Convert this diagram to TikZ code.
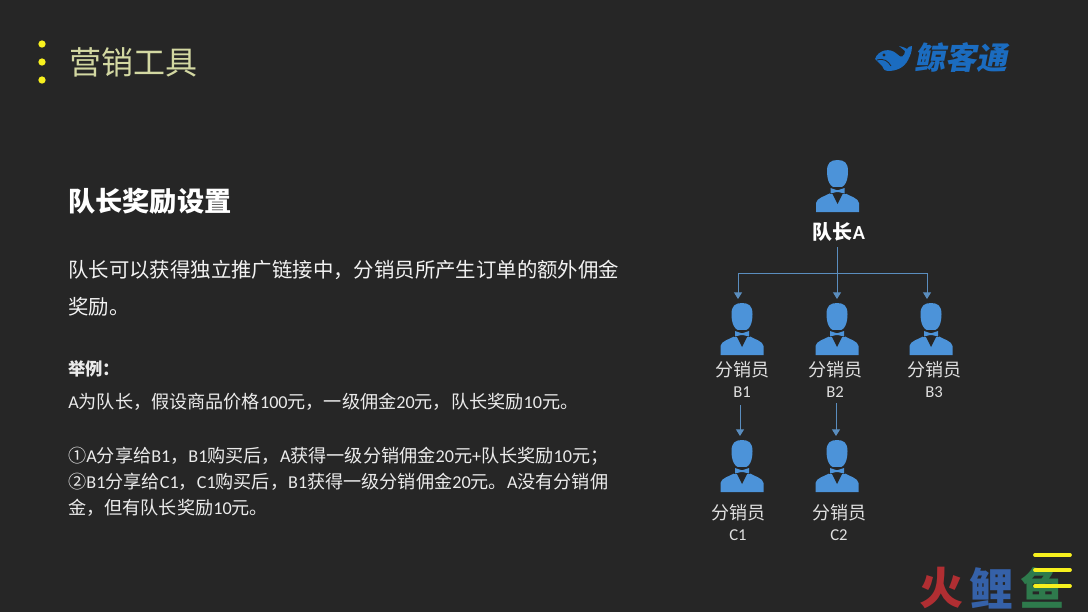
\documentclass[tikz,border=0pt]{standalone}
\usepackage{fontspec}
\setmainfont{Noto Sans CJK SC}
\newfontfamily\carlito{Carlito}
\usetikzlibrary{arrows.meta}
\definecolor{slidebg}{HTML}{262626}
\definecolor{iconblue}{HTML}{4C93D9}
\definecolor{wireblue}{HTML}{5A8DBE}
\definecolor{logoblue}{HTML}{1B6CC0}
\definecolor{titlegreen}{HTML}{D3D8A2}
\definecolor{dotyellow}{HTML}{F7F01E}
\definecolor{brandred}{HTML}{B02E32}
\definecolor{brandblue}{HTML}{3561A8}
\definecolor{brandgreen}{HTML}{2E7A4C}
\newcommand{\lat}[1]{{\carlito #1}}
\tikzset{
  bodytext/.style={anchor=west, inner sep=0pt, text=white!95!black, font=\fontsize{15.3}{18}\selectfont},
  smalltext/.style={anchor=west, inner sep=0pt, text=white!92!black, font=\fontsize{13.6}{16}\selectfont},
  role/.style={inner sep=0pt, text=white!88!black, font=\fontsize{13.5}{16}\selectfont},
  rolecode/.style={inner sep=0pt, text=white!88!black, font=\carlito\fontsize{12.5}{14}\selectfont},
  iconbox/.style={anchor=north, inner sep=0pt, outer sep=0pt, minimum width=33pt, minimum height=42pt},
  wire/.style={draw=wireblue, line width=0.7pt},
  wirearrow/.style={wire, -{Triangle[width=6pt,length=5pt]}},
  dot/.style={circle, fill=dotyellow, inner sep=0pt, minimum size=5.5pt},
  brand/.style={inner sep=0pt, font=\bfseries\fontsize{33}{38}\selectfont},
  yellowbar/.style={draw=dotyellow, line width=2.8pt, line cap=round}
}
% #1 name, #2 centre x, #3 top of head
\newcommand{\person}[3]{
  \node [iconbox] (#1) at (#2,#3-4) {};
  \begin{scope}[shift={(#2,#3)}]
    \fill [iconblue] (-10.5,11) .. controls (-10.5,3) and (-7,0) .. (0,0) .. controls (7,0) and (10.5,3) .. (10.5,11)
      .. controls (10.5,20) and (8,28) .. (0,28) .. controls (-8,28) and (-10.5,20) .. (-10.5,11) -- cycle;
    \fill [iconblue] (-21.5,52) -- (-21.5,43) .. controls (-21,38) and (-12,36) .. (-7,33) -- (7,33)
      .. controls (12,36) and (21,38) .. (21.5,43) -- (21.5,52) -- cycle;
    \fill [slidebg] (-5.5,33) -- (5.5,33) -- (0,44) -- cycle;
    \fill [slidebg] (-8,26.5) rectangle (8,33.5);
    \fill [iconblue] (-7,28) -- (-1,30) -- (1,30) -- (7,28) -- (7,33.5) -- (1,32) -- (-1,32) -- (-7,33.5) -- cycle;
  \end{scope}
}
\begin{document}
\begin{tikzpicture}[x=0.75pt,y=-0.75pt]
\useasboundingbox (0,0) rectangle (1088,612);
\fill [slidebg] (0,0) rectangle (1088,612);
\node [dot] (dota) at (42,44) {};
\node [dot] (dotb) at (42,62) {};
\node [dot] (dotc) at (42,80) {};
\node [anchor=west, inner sep=0pt, text=titlegreen, font=\fontsize{24}{28}\selectfont] (title) at (69,62) {营销工具};
% logo
\fill [logoblue] (875,59) .. controls (878,50) and (890,47) .. (897,54) .. controls (901,59) and (905,56) .. (905,51)
  -- (899,46) .. controls (903,47) and (906,48) .. (907,49) .. controls (908,47) and (910,46) .. (912,46)
  .. controls (912,52) and (910,56) .. (908,60) .. controls (904,68) and (896,71) .. (888,71)
  .. controls (882,71) and (884,66) .. (880,64) -- cycle;
\fill [slidebg] (884,55) circle (1.6);
\draw [slidebg, line width=0.6pt] (877,60) .. controls (884,58) and (888,61) .. (891,66);
\node [inner sep=0pt, text=logoblue, font=\bfseries\fontsize{23.2}{26}\selectfont, xslant=0.2, transform shape] (logo) at (963,58) {鲸客通};
% left text
\node [bodytext, text=white, font=\bfseries\fontsize{20.4}{24}\selectfont] (heading) at (68,201) {队长奖励设置};
\node [bodytext] (linea) at (68,270) {队长可以获得独立推广链接中，分销员所产生订单的额外佣金};
\node [bodytext] (lineb) at (68,307) {奖励。};
\node [smalltext, font=\bfseries\fontsize{13}{16}\selectfont] (linec) at (68,369) {举例：};
\node [smalltext] (lined) at (68,402) {\lat{A}为队长，假设商品价格\lat{100}元，一级佣金\lat{20}元，队长奖励\lat{10}元。};
\node [smalltext] (linee) at (68,456) {①\lat{A}分享给\lat{B1}，\lat{B1}购买后，\lat{A}获得一级分销佣金\lat{20}元\lat{+}队长奖励\lat{10}元；};
\node [smalltext] (linef) at (68,482) {②\lat{B1}分享给\lat{C1}，\lat{C1}购买后，\lat{B1}获得一级分销佣金\lat{20}元。\lat{A}没有分销佣};
\node [smalltext] (lineg) at (68,508) {金，但有队长奖励\lat{10}元。};
% tree
\person{capt}{837.5}{160}
\person{ba}{742}{303}
\person{bb}{837}{303}
\person{bc}{931}{303}
\person{ca}{742}{440}
\person{cb}{837}{440}
\node [role, text=white, font=\bfseries\fontsize{15}{18}\selectfont] (captlabel) at (839,232) {队长\lat{A}};
\node [role] (balabel) at (742,370) {分销员};
\node [rolecode] (bacode) at (742,392) {B1};
\node [role] (bblabel) at (835,370) {分销员};
\node [rolecode] (bbcode) at (835,392) {B2};
\node [role] (bclabel) at (934,370) {分销员};
\node [rolecode] (bccode) at (934,392) {B3};
\node [role] (calabel) at (738,513) {分销员};
\node [rolecode] (cacode) at (738,535) {C1};
\node [role] (cblabel) at (839,513) {分销员};
\node [rolecode] (cbcode) at (839,535) {C2};
\coordinate (busfrom) at (837,247);
\coordinate (busl) at (738,273);
\coordinate (busm) at (837,273);
\coordinate (busr) at (927,273);
\coordinate (bafrom) at (740,405);
\coordinate (bbfrom) at (836,403);
\draw [wire] (busfrom) -- (busm);
\draw [wire] (busl) -- (busr);
\draw [wirearrow] (busl) -- (busl |- ba.north);
\draw [wirearrow] (busm) -- (busm |- bb.north);
\draw [wirearrow] (busr) -- (busr |- bc.north);
\draw [wirearrow] (bafrom) -- (bafrom |- ca.north);
\draw [wirearrow] (bbfrom) -- (bbfrom |- cb.north);
% watermark
\node [brand, text=brandred] (brandh) at (941,588) {火};
\node [brand, text=brandblue] (brandl) at (991,588) {鲤};
\node [brand, text=brandgreen] (brandy) at (1042,588) {鱼};
\coordinate (barat) at (1035,555);
\coordinate (barbt) at (1035,570);
\coordinate (barct) at (1035,586);
\draw [yellowbar] (barat) -- ++(35,0);
\draw [yellowbar] (barbt) -- ++(35,0);
\draw [yellowbar] (barct) -- ++(35,0);
\end{tikzpicture}
\end{document}
